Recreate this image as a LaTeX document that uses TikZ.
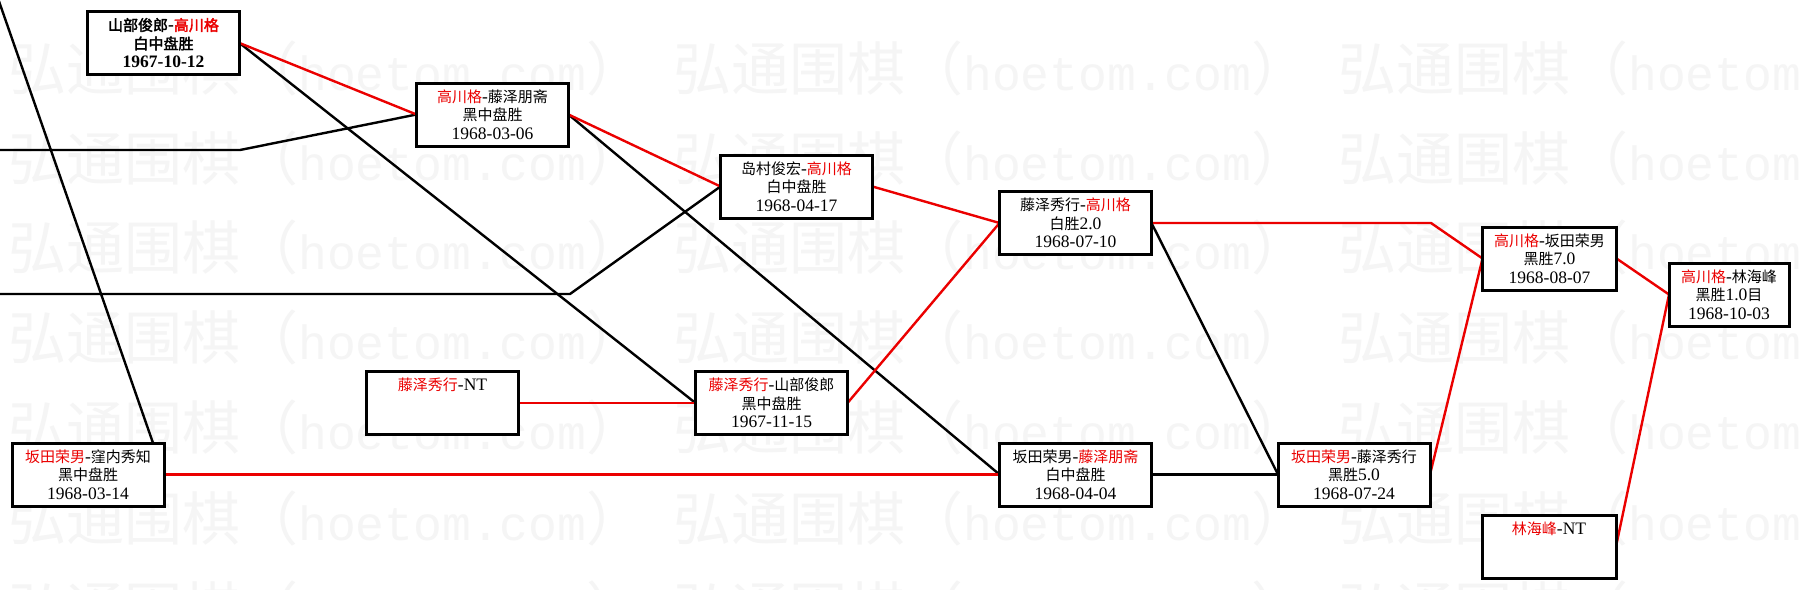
\documentclass[tikz,border=0pt]{standalone}
\usepackage{fontspec}
\setmainfont{Noto Sans CJK SC}[AutoFakeBold=2.5]
\newfontfamily\latf{Liberation Serif}
\newfontfamily\monof{Liberation Mono}
\newfontfamily\wmfont{Noto Sans CJK SC}
\definecolor{gored}{RGB}{235,0,0}
\definecolor{wmgray}{RGB}{245,245,245}
\newcommand{\rd}[1]{\textcolor{gored}{#1}}
\newcommand{\lat}[1]{{\latf\fontsize{17.5}{18.5}\selectfont #1}}
\newcommand{\wmtext}{{\wmfont\fontsize{58}{60}\selectfont 弘通围棋（{\monof\fontsize{48}{50}\selectfont hoetom.com}）}}
\pgfdeclarelayer{wm}
\pgfdeclarelayer{edges}
\pgfsetlayers{wm,edges,main}
\tikzset{
  gamebox/.style={draw=black, line width=3pt, fill=white, minimum width=152pt,
    minimum height=63pt, inner sep=0pt, outer sep=0pt, align=center,
    font=\fontsize{15}{18.5}\selectfont},
  bl/.style={draw=black, line width=2.4pt, line join=round},
  rl/.style={draw=gored, line width=2.4pt, line join=round},
  wmark/.style={text=wmgray, inner sep=0pt, anchor=base west}
}
\begin{document}
\begin{tikzpicture}[x=1pt,y=-1pt]
\useasboundingbox (0,0) rectangle (1801,589);

% game boxes
\node[gamebox, font=\fontsize{15}{18.5}\selectfont\bfseries] (A) at (163.5,43)
  {山部俊郎\lat{-}\rd{高川格}\\白中盘胜\\\lat{1967-10-12}};
\node[gamebox] (B) at (492.5,114.5) {\rd{高川格}\lat{-}藤泽朋斋\\黑中盘胜\\\lat{1968-03-06}};
\node[gamebox] (C) at (796.5,186.5) {岛村俊宏\lat{-}\rd{高川格}\\白中盘胜\\\lat{1968-04-17}};
\node[gamebox] (D) at (771.5,403) {\rd{藤泽秀行}\lat{-}山部俊郎\\黑中盘胜\\\lat{1967-11-15}};
\node[gamebox] (E) at (1075.5,474.5) {坂田荣男\lat{-}\rd{藤泽朋斋}\\白中盘胜\\\lat{1968-04-04}};
\node[gamebox] (F) at (1075.5,223) {藤泽秀行\lat{-}\rd{高川格}\\白胜\lat{2.0}\\\lat{1968-07-10}};
\node[gamebox] (G) at (1354,474.5) {\rd{坂田荣男}\lat{-}藤泽秀行\\黑胜\lat{5.0}\\\lat{1968-07-24}};
\node[gamebox, minimum width=134pt] (H) at (1549.5,258.5) {\rd{高川格}\lat{-}坂田荣男\\黑胜\lat{7.0}\\\lat{1968-08-07}};
\node[gamebox, minimum width=120pt] (I) at (1729,294.5) {\rd{高川格}\lat{-}林海峰\\黑胜\lat{1.0}目\\\lat{1968-10-03}};
\node[gamebox] (J) at (88,474.5) {\rd{坂田荣男}\lat{-}窪内秀知\\黑中盘胜\\\lat{1968-03-14}};
\node[gamebox] (K) at (442.5,403) {\rd{藤泽秀行}\lat{-NT}\\\mbox{}\\\lat{\phantom{1}}};
\node[gamebox, minimum width=134pt] (L) at (1549,546.5) {\rd{林海峰}\lat{-NT}\\\mbox{}\\\lat{\phantom{1}}};

% free ends and bends
\coordinate (tl) at (-2.5,-3);
\coordinate (l1) at (-3,150);
\coordinate (m1) at (240,150);
\coordinate (l2) at (-3,294);
\coordinate (m2) at (570,294);
\coordinate (m3) at (1431,222);

\begin{pgfonlayer}{wm}
\fill[white] (0,0) rectangle (1801,589);
\begin{scope}
\clip (0,0) rectangle (1801,589);
\foreach \yy [count=\i] in {90,180,269,359,449,540,630}{
  \foreach \xx [count=\j] in {8,673,1338}{
    \node[wmark] (wm-\i-\j) at (\xx,\yy) {\wmtext};
  }
}
\end{scope}
\end{pgfonlayer}

\begin{pgfonlayer}{edges}
\draw[bl] (tl) -- (J.east);
\draw[bl] (l1) -- (m1) -- (B.west);
\draw[bl] (l2) -- (m2) -- (C.west);
\draw[bl] (A.east) -- (D.west);
\draw[bl] (B.east) -- (E.west);
\draw[bl] (F.east) -- (G.west);
\draw[bl] (E.east) -- (G.west);
\draw[rl] (A.east) -- (B.west);
\draw[rl] (B.east) -- (C.west);
\draw[rl] (C.east) -- (F.west);
\draw[rl] (K.east) -- (D.west);
\draw[rl] (D.east) -- (F.west);
\draw[rl] (J.east) -- (E.west);
\draw[rl] (F.east) -- (F.east -| m3) -- (H.west);
\draw[rl] (G.east) -- (H.west);
\draw[rl] (H.east) -- (I.west);
\draw[rl] (L.east) -- (I.west);
\end{pgfonlayer}
\end{tikzpicture}
\end{document}
